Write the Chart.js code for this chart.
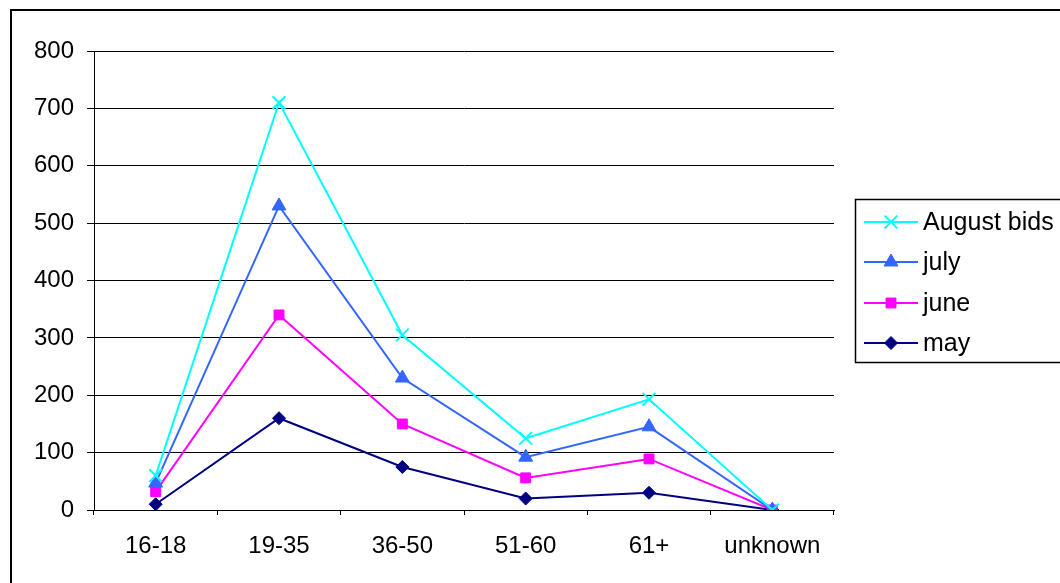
<!DOCTYPE html>
<html>
<head>
<meta charset="utf-8">
<script src="https://cdn.jsdelivr.net/npm/chart.js@4/dist/chart.umd.min.js"></script>
<style>
  html, body { margin: 0; padding: 0; background: #fff; }
  #wrap { width: 1060px; height: 583px; position: relative; }
</style>
</head>
<body>
<div id="wrap"><canvas id="c" width="1060" height="583"></canvas></div>
<script>
// Bids per age group, by month
const categories = ['16-18', '19-35', '36-50', '51-60', '61+', 'unknown'];
const augustBids = [60, 710, 305, 125, 193, 0];
const july = [47, 530, 230, 92, 145, 0];
const june = [32, 340, 150, 56, 89, 0];
const may = [10, 160, 75, 20, 30, 0];
const yTicks = [0, 100, 200, 300, 400, 500, 600, 700, 800];

const FONT = '"Liberation Sans", Arial, sans-serif';

function series(label, data, color, style, radius, pbw) {
  return {
    label, data,
    borderColor: color, backgroundColor: color,
    pointBackgroundColor: color, pointBorderColor: color,
    borderWidth: 2, pointStyle: style, pointRadius: radius,
    pointBorderWidth: pbw, pointHoverRadius: radius,
    tension: 0, fill: false
  };
}

const datasets = [
  series('August bids', augustBids, '#00FFFF', 'crossRot', 9, 2),
  series('july', july, '#3366FF', 'triangle', 8, 1),
  series('june', june, '#FF00FF', 'rect', 7, 1),
  series('may', may, '#000080', 'rectRot', 6.5, 1)
];

// Outer frame and boxed legend with line + marker samples
const frameAndLegend = {
  id: 'frameAndLegend',
  beforeDraw(chart) {
    const ctx = chart.ctx;
    ctx.save();
    ctx.fillStyle = '#fff';
    ctx.fillRect(0, 0, chart.width, chart.height);
    ctx.restore();
  },
  afterDraw(chart) {
    const ctx = chart.ctx;
    ctx.save();
    ctx.strokeStyle = '#000';
    ctx.lineWidth = 2;
    ctx.strokeRect(11, 10, 1200, 1000);

    ctx.lineWidth = 1.5;
    ctx.strokeRect(855.5, 199.5, 400, 163);

    const rows = [222, 262, 303, 343];
    ctx.font = '25px ' + FONT;
    ctx.textBaseline = 'middle';
    chart.data.datasets.forEach((ds, i) => {
      const y = rows[i];
      ctx.strokeStyle = ds.borderColor;
      ctx.lineWidth = 2;
      ctx.beginPath();
      ctx.moveTo(864, y);
      ctx.lineTo(918, y);
      ctx.stroke();
      ctx.fillStyle = ds.pointBackgroundColor;
      ctx.strokeStyle = ds.pointBorderColor;
      ctx.lineWidth = ds.pointBorderWidth;
      Chart.helpers.drawPoint(ctx, {
        pointStyle: ds.pointStyle, radius: ds.pointRadius,
        rotation: 0, borderWidth: ds.pointBorderWidth
      }, 891, y);
      ctx.fillStyle = '#000';
      ctx.fillText(ds.label, 923, y + 1);
    });
    ctx.restore();
  }
};

new Chart(document.getElementById('c'), {
  type: 'line',
  data: { labels: categories, datasets },
  plugins: [frameAndLegend],
  options: {
    responsive: false,
    animation: false,
    devicePixelRatio: 1,
    layout: { padding: { left: 0, right: 226, top: 51, bottom: 0 } },
    plugins: { legend: { display: false }, tooltip: { enabled: false } },
    scales: {
      x: {
        offset: true,
        grid: { display: true, drawOnChartArea: false, drawTicks: true, tickLength: 5, color: '#000', offset: true },
        border: { display: true, color: '#000', width: 1 },
        ticks: { color: '#000', font: { family: FONT, size: 24 }, padding: 17, maxRotation: 0, autoSkip: false },
        afterFit(s) { s.height = 73; }
      },
      y: {
        min: 0, max: 800,
        afterBuildTicks(s) { s.ticks = yTicks.map(v => ({ value: v })); },
        grid: { color: '#000', lineWidth: 1, drawTicks: true, tickLength: 7 },
        border: { display: true, color: '#000', width: 1 },
        ticks: { color: '#000', font: { family: FONT, size: 24 }, padding: 13 },
        afterFit(s) { s.width = 94; }
      }
    }
  }
});
</script>
</body>
</html>
